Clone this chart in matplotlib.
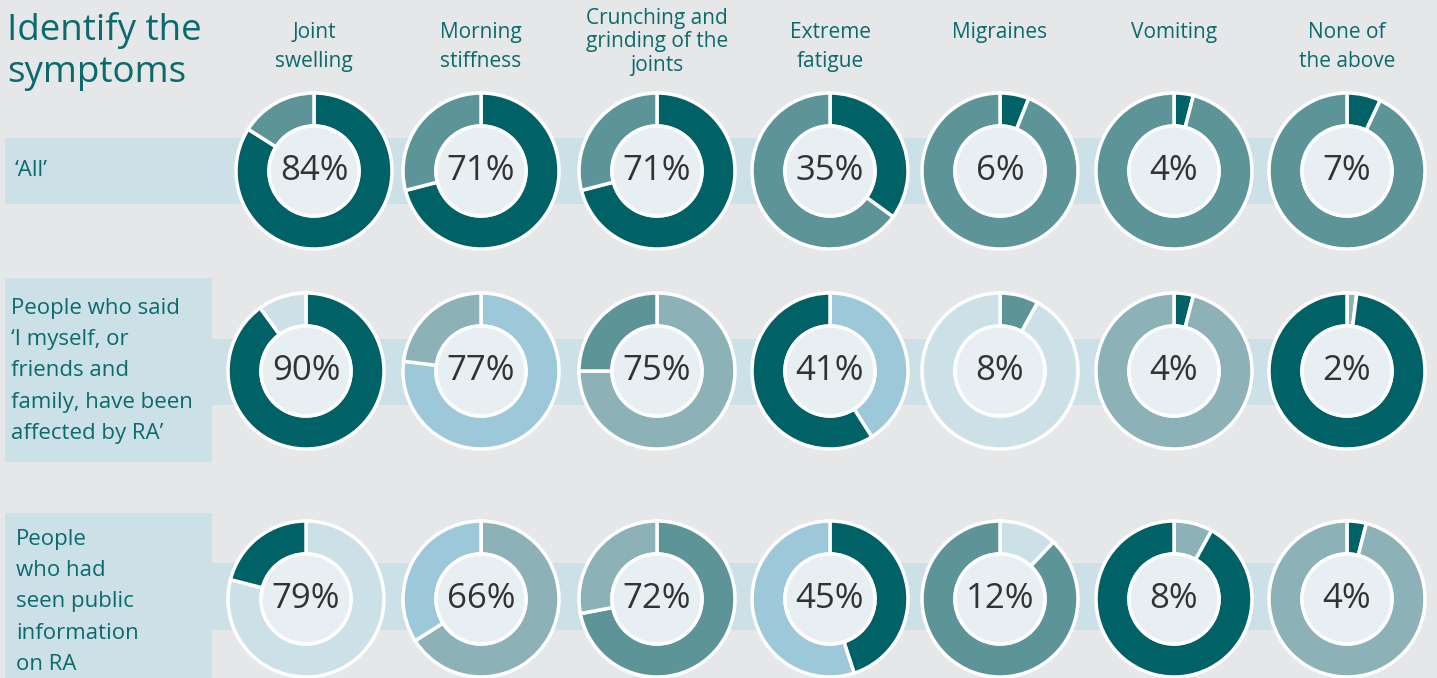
import matplotlib.pyplot as plt
from matplotlib.patches import Rectangle, Circle

plt.rcParams['font.family'] = ['Open Sans', 'DejaVu Sans']

# data
symptoms = ['Joint\nswelling', 'Morning\nstiffness', 'Crunching and\ngrinding of the\njoints',
            'Extreme\nfatigue', 'Migraines', 'Vomiting', 'None of\nthe above']
groups = ['\u2018All\u2019',
          'People who said\n\u2018I myself, or\nfriends and\nfamily, have been\naffected by RA\u2019',
          'People\nwho had\nseen public\ninformation\non RA']
all_pct = [84, 71, 71, 35, 6, 4, 7]
affected_pct = [90, 77, 75, 41, 8, 4, 2]
seen_info_pct = [79, 66, 72, 45, 12, 8, 4]
values = [all_pct, affected_pct, seen_info_pct]

# colours
BG = '#e6e7e9'
BAND = '#cce0e8'
INNER = '#e8eff3'
TEAL_TXT = '#0b6a6c'
D, M, G, LB, VL = '#006166', '#5c9498', '#8cb2b7', '#9dc8d9', '#cce0e8'
palette = [
    [(D, M)] * 7,
    [(D, VL), (LB, G), (G, M), (LB, D), (M, VL), (D, G), (G, D)],
    [(VL, D), (G, LB), (M, G), (D, LB), (VL, M), (G, D), (D, G)],
]

W, H = 1437, 678
fig = plt.figure(figsize=(W / 100, H / 100), dpi=100)
fig.patch.set_facecolor(BG)
bg = fig.add_axes([0, 0, 1, 1])
bg.set_xlim(0, W)
bg.set_ylim(H, 0)
bg.axis('off')

col_x = [310, 481, 657, 830, 1000, 1174, 1347]
row_y = [171, 371, 599]
bands = [(138, 204), (339, 405), (563, 630)]
boxes = [None, (278, 462), (513, 690)]

for i in range(3):
    y0, y1 = bands[i]
    bg.add_patch(Rectangle((5, y0), 1395, y1 - y0, fc=BAND, ec='none'))
    if boxes[i]:
        b0, b1 = boxes[i]
        bg.add_patch(Rectangle((5, b0), 207, b1 - b0, fc=BAND, ec='none'))

bg.text(7, 12, 'Identify the\nsymptoms', color=TEAL_TXT, fontsize=26.5,
        va='top', ha='left', linespacing=1.22)

for j, s in enumerate(symptoms):
    n = s.count('\n') + 1
    bg.text(col_x[j] + (4 if j == 0 else 0), 8 if n == 3 else 22, s, color=TEAL_TXT,
            fontsize=15, ha='center', va='top', linespacing=1.15 if n == 3 else 1.5)

label_x = [15, 11, 16]
label_dy = [0, 0, 3]
for i, g in enumerate(groups):
    bg.text(label_x[i], row_y[i] + label_dy[i], g, color=TEAL_TXT, fontsize=16,
            ha='left', va='center', linespacing=1.65)

R = 80
for i in range(3):
    for j in range(7):
        cx = col_x[j]
        if j == 0:
            cx = 314 if i == 0 else 306
        cy = row_y[i]
        ax = fig.add_axes([(cx - R) / W, 1 - (cy + R) / H, 2 * R / W, 2 * R / H])
        v = values[i][j]
        ax.pie([v, 100 - v], colors=palette[i][j], startangle=90, counterclock=False,
               radius=78 / R, wedgeprops=dict(width=33 / R, edgecolor='white', linewidth=2.5))
        ax.add_patch(Circle((0, 0), 45 / R, fc=INNER, ec='white', lw=2.5, zorder=5))
        ax.text(0, 0, f'{v}%', ha='center', va='center', fontsize=25,
                color='#333333', zorder=6)
        ax.set_xlim(-1, 1)
        ax.set_ylim(-1, 1)
        ax.set_aspect('equal')
        ax.axis('off')

fig.savefig('out.png', dpi=100, facecolor=BG)
